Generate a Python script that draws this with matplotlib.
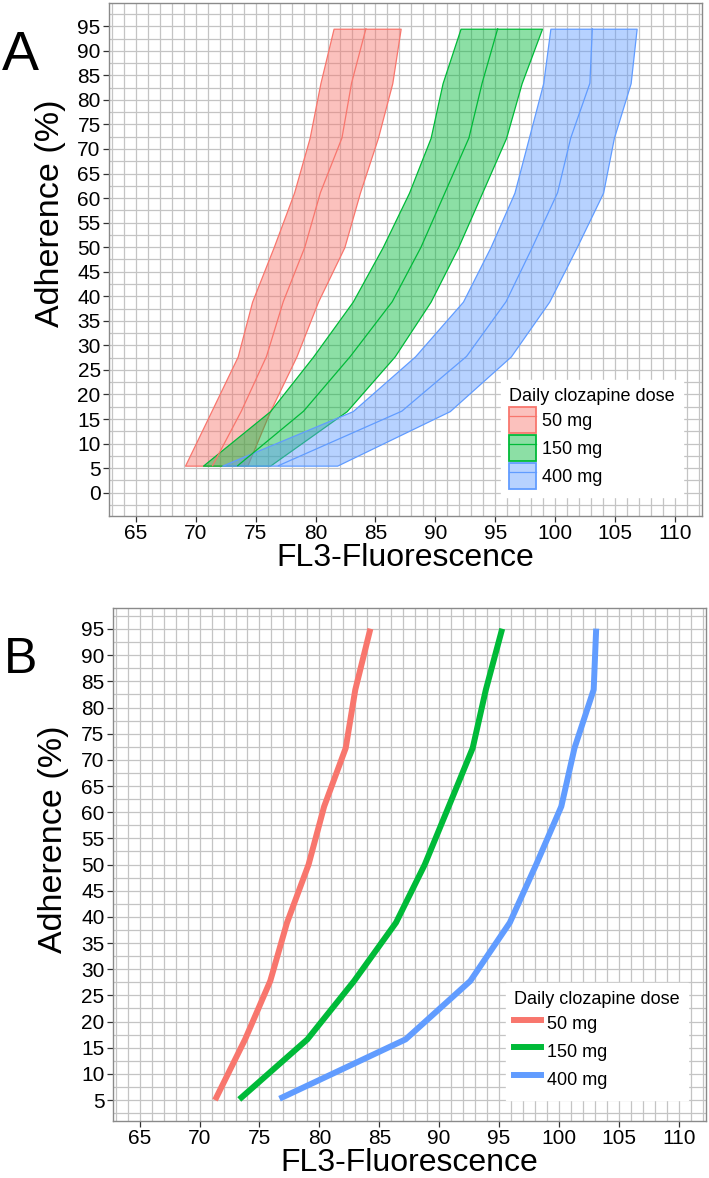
import matplotlib
matplotlib.use("Agg")
import matplotlib.pyplot as plt
from matplotlib.patches import Patch
from matplotlib.lines import Line2D
from matplotlib.colors import to_rgba
import numpy as np

plt.rcParams['font.family'] = ['Liberation Sans', 'DejaVu Sans']

# adherence levels (%)
adherence = [5.5, 16.6, 27.75, 38.9, 50.0, 61.1, 72.25, 83.4, 94.5]

doses = ["50 mg", "150 mg", "400 mg"]
colors = ["#F8766D", "#00BA38", "#619CFF"]

# FL3 fluorescence, estimate and band per dose
mid_50 = [71.4, 73.8, 75.9, 77.3, 79.1, 80.4, 82.2, 83.0, 84.2]
lo_50 = [69.1, 71.3, 73.5, 74.7, 76.5, 78.2, 79.5, 80.4, 81.5]
hi_50 = [74.3, 76.2, 78.4, 80.2, 82.4, 83.7, 85.2, 86.4, 87.1]

mid_150 = [73.5, 79.0, 82.9, 86.4, 88.8, 90.8, 92.8, 93.9, 95.2]
lo_150 = [70.6, 76.2, 79.8, 83.1, 85.6, 87.8, 89.6, 90.6, 92.1]
hi_150 = [76.2, 82.6, 86.6, 89.6, 91.9, 93.9, 95.9, 97.2, 98.9]

mid_400 = [76.9, 87.2, 92.6, 95.9, 98.1, 100.2, 101.3, 102.9, 103.1]
lo_400 = [72.2, 83.1, 88.3, 92.3, 94.6, 96.6, 97.8, 99.0, 99.6]
hi_400 = [81.8, 91.2, 96.3, 99.5, 101.8, 104.0, 104.9, 106.3, 106.8]

mids = [mid_50, mid_150, mid_400]
los = [lo_50, lo_150, lo_400]
his = [hi_50, hi_150, hi_400]

x_ticks = list(range(65, 111, 5))
y_ticks_a = list(range(0, 96, 5))
y_ticks_b = list(range(5, 96, 5))


def style_axes(ax, ylim, yticks, ylab_y):
    ax.set_xlim(62.75, 112.25)
    ax.set_ylim(*ylim)
    # fine grid: every 1 unit on x, every 2.5 on y
    for gx in np.arange(63, 113, 1):
        ax.axvline(gx, color="#c4c4c4", lw=0.9, zorder=0)
    for gy in np.arange(-2.5, 100, 2.5):
        if ylim[0] < gy < ylim[1]:
            ax.axhline(gy, color="#c4c4c4", lw=0.9, zorder=0)
    ax.set_xticks(x_ticks)
    ax.set_yticks(yticks)
    ax.tick_params(labelsize=15, length=4, width=0.9, color="#333333", pad=2)
    for s in ax.spines.values():
        s.set_color("#8a8a8a")
        s.set_linewidth(1.0)
    ax.set_xlabel("FL3-Fluorescence", fontsize=23, labelpad=0)
    ax.set_ylabel("Adherence (%)", fontsize=24.5)
    ax.yaxis.set_label_coords(-0.073, ylab_y)


def legend_box(leg):
    leg.get_frame().set_edgecolor("white")
    leg.get_frame().set_alpha(1)
    leg._legend_box.align = "left"


fig = plt.figure(figsize=(7.09, 11.78), dpi=100)

# ---- panel A: bands with estimate lines
axA = fig.add_axes([0.1537, 0.5620, 0.8363, 0.4355])
style_axes(axA, (-4.75, 99.75), y_ticks_a, 0.59)
handles_a = []
for lo, mid, hi, c, d in zip(los, mids, his, colors, doses):
    axA.fill_betweenx(adherence, lo, hi, facecolor=to_rgba(c, 0.45),
                      edgecolor=c, linewidth=0.9, zorder=2)
    axA.plot(mid, adherence, color=c, lw=0.9, zorder=3)
    handles_a.append((Patch(facecolor=to_rgba(c, 0.45), edgecolor=c, linewidth=1.3),
                      Line2D([], [], color=c, lw=0.9)))
legA = axA.legend(handles_a, doses, title="Daily clozapine dose", loc="lower right",
                  bbox_to_anchor=(0.968, 0.037), borderaxespad=0, fontsize=13,
                  title_fontsize=13, frameon=True, fancybox=False, handlelength=1.5,
                  handleheight=1.85, handletextpad=0.3, labelspacing=0.1, borderpad=0.45)
legend_box(legA)

# ---- panel B: estimate lines only
axB = fig.add_axes([0.159, 0.0486, 0.8363, 0.435])
style_axes(axB, (1.05, 98.95), y_ticks_b, 0.55)
for mid, c, d in zip(mids, colors, doses):
    axB.plot(mid, adherence, color=c, lw=4.3, label=d, zorder=3)
legB = axB.legend(title="Daily clozapine dose", loc="lower right",
                  bbox_to_anchor=(0.970, 0.040), borderaxespad=0, fontsize=13,
                  title_fontsize=13, frameon=True, fancybox=False, handlelength=1.5,
                  handleheight=1.85, handletextpad=0.3, labelspacing=0.1, borderpad=0.45)
legend_box(legB)

fig.text(0.003, 0.9406, "A", fontsize=40, va="baseline", ha="left")
fig.text(0.006, 0.4287, "B", fontsize=36, va="baseline", ha="left")

fig.savefig("out.png", dpi=100)
